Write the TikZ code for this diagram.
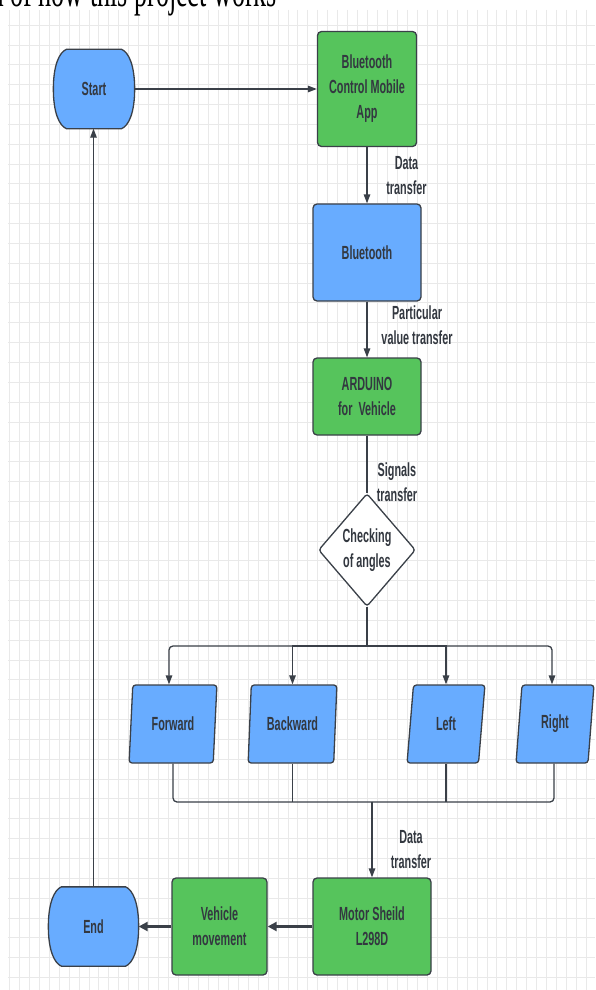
\documentclass[tikz,border=0pt]{standalone}
\usepackage{fontspec}
\setmainfont{Liberation Sans}
\newfontfamily\dfont[FakeStretch=0.57]{Liberation Sans}
\newfontfamily\tfont[FakeStretch=0.58]{Liberation Serif}
\usetikzlibrary{arrows.meta,shapes.geometric}
\definecolor{lblue}{RGB}{104,172,255}
\definecolor{lgreen}{RGB}{86,196,92}
\definecolor{edgec}{RGB}{58,64,72}
\definecolor{txtc}{RGB}{51,56,64}
\definecolor{gridc}{RGB}{233,233,233}
\tikzset{
  base/.style={draw=edgec, line width=1.3pt, font={\dfont\bfseries\fontsize{19}{25}\selectfont}, text=txtc, align=center, inner sep=0pt},
  procbox/.style={base, rectangle, rounded corners=4pt},
  greenbox/.style={procbox, fill=lgreen},
  bluebox/.style={procbox, fill=lblue},
  termbox/.style={base, draw=none, rectangle, minimum height=78pt},
  termdraw/.style={draw=edgec, line width=1.3pt, fill=lblue},
  iobox/.style={base, trapezium, trapezium left angle=82, trapezium right angle=98, trapezium stretches=true, fill=lblue, rounded corners=3pt, minimum height=78pt},
  decbox/.style={base, diamond, fill=white, rounded corners=3pt, minimum width=97pt, minimum height=113pt},
  lbl/.style={font={\dfont\bfseries\fontsize{19}{25}\selectfont}, text=txtc, align=center, inner sep=0pt},
  conn/.style={draw=edgec, line width=1.3pt},
  arr/.style={conn, -{Triangle[length=9pt,width=6.5pt]}},
  bigarr/.style={draw=edgec, line width=2.6pt, -{Triangle[length=9pt,width=9pt]}},
  gridline/.style={draw=gridc, line width=0.8pt}
}
% terminal outline drawn round a named node
\newcommand{\termoutline}[1]{%
  \path[termdraw] ([xshift=-13pt]#1.north east)
    .. controls ([xshift=-6pt,yshift=-3pt]#1.north east) and ([yshift=24pt]#1.east) .. (#1.east)
    .. controls ([yshift=-24pt]#1.east) and ([xshift=-6pt,yshift=3pt]#1.south east) .. ([xshift=-13pt]#1.south east)
    -- ([xshift=13pt]#1.south west)
    .. controls ([xshift=6pt,yshift=3pt]#1.south west) and ([yshift=-24pt]#1.west) .. (#1.west)
    .. controls ([yshift=24pt]#1.west) and ([xshift=6pt,yshift=-3pt]#1.north west) .. ([xshift=13pt]#1.north west)
    -- cycle;}
\begin{document}
\begin{tikzpicture}[x=1pt,y=-1pt]
\useasboundingbox (0,0) rectangle (595,990);
\clip (0,0) rectangle (595,990);
\fill[white] (0,0) rectangle (595,990);
% grid
\begin{scope}
\clip (8,10) rectangle (595,990);
\foreach \i in {0,...,58} \draw[gridline] ({9.3+9.95*\i},10) -- ({9.3+9.95*\i},990);
\foreach \j in {1,...,50} \draw[gridline] (8,{5.28+19.84*\j}) -- (595,{5.28+19.84*\j});
\end{scope}
% title (cut off at the top, as in the reference)
\node[anchor=base west, font={\tfont\fontsize{45}{50}\selectfont}, inner sep=0pt] (title) at (-8,7) {a of how this project works};
% nodes
\node[termbox, minimum width=80pt] (start) at (94,89) {};
\termoutline{start}
\node[base, draw=none] at (start) {Start};
\node[greenbox, minimum width=99pt, minimum height=115pt] (app) at (367,89) {Bluetooth\\Control Mobile\\App};
\node[bluebox, minimum width=108pt, minimum height=97pt] (bt) at (367,252.5) {Bluetooth};
\node[greenbox, minimum width=108pt, minimum height=77pt] (ard) at (367,396.5) {ARDUINO\\for~ Vehicle};
\node[decbox] (chk) at (367,550) {Checking\\of angles};
\node[iobox, minimum width=88pt] (fwd) at (173,724) {Forward};
\node[iobox, minimum width=89pt] (bwd) at (292.5,724) {Backward};
\node[iobox, minimum width=78pt] (lft) at (446,724) {Left};
\node[iobox, minimum width=78pt] (rgt) at (555,724) {Right};
\node[greenbox, minimum width=118pt, minimum height=97pt] (motor) at (372,926.5) {Motor Sheild\\L298D};
\node[greenbox, minimum width=95pt, minimum height=97pt] (veh) at (219.5,926.5) {Vehicle\\movement};
\node[termbox, minimum width=89pt] (endn) at (93.5,926.5) {};
\termoutline{endn}
\node[base, draw=none] at (endn) {End};
% labels
\node[lbl] (l1) at (406.5,176) {Data\\transfer};
\node[lbl] (l2) at (417,325) {Particular\\value transfer};
\node[lbl] (l3) at (397,482) {Signals\\transfer};
\node[lbl] (l4) at (411,850) {Data\\transfer};
% connectors
\draw[arr] (start) -- (app);
\draw[arr] (app) -- (bt);
\draw[arr] (bt) -- (ard);
\draw[conn] (ard) -- (chk);
\coordinate (split) at (367,646);
\draw[conn] (chk.south) -- (split);
\draw[arr, rounded corners=4pt] (split) -| ([xshift=-4pt]fwd.north);
\draw[arr] (split) -| (bwd.north);
\draw[arr] (split) -| (lft.north);
\draw[arr, rounded corners=4pt] (split) -| ([xshift=-3pt]rgt.north);
\coordinate (merge) at (372,802);
\draw[conn, rounded corners=4pt] (fwd.south) |- (merge);
\draw[conn] (bwd.south) -- (bwd.south |- merge);
\draw[conn] (lft.south) -- (lft.south |- merge);
\draw[conn, rounded corners=4pt] ([xshift=-1pt]rgt.south) |- (merge);
\draw[arr] (merge) -- (motor);
\draw[bigarr] (motor) -- (veh);
\draw[bigarr] (veh) -- (endn);
\draw[arr] (endn.north) -- (endn.north |- start.south);
\end{tikzpicture}
\end{document}
